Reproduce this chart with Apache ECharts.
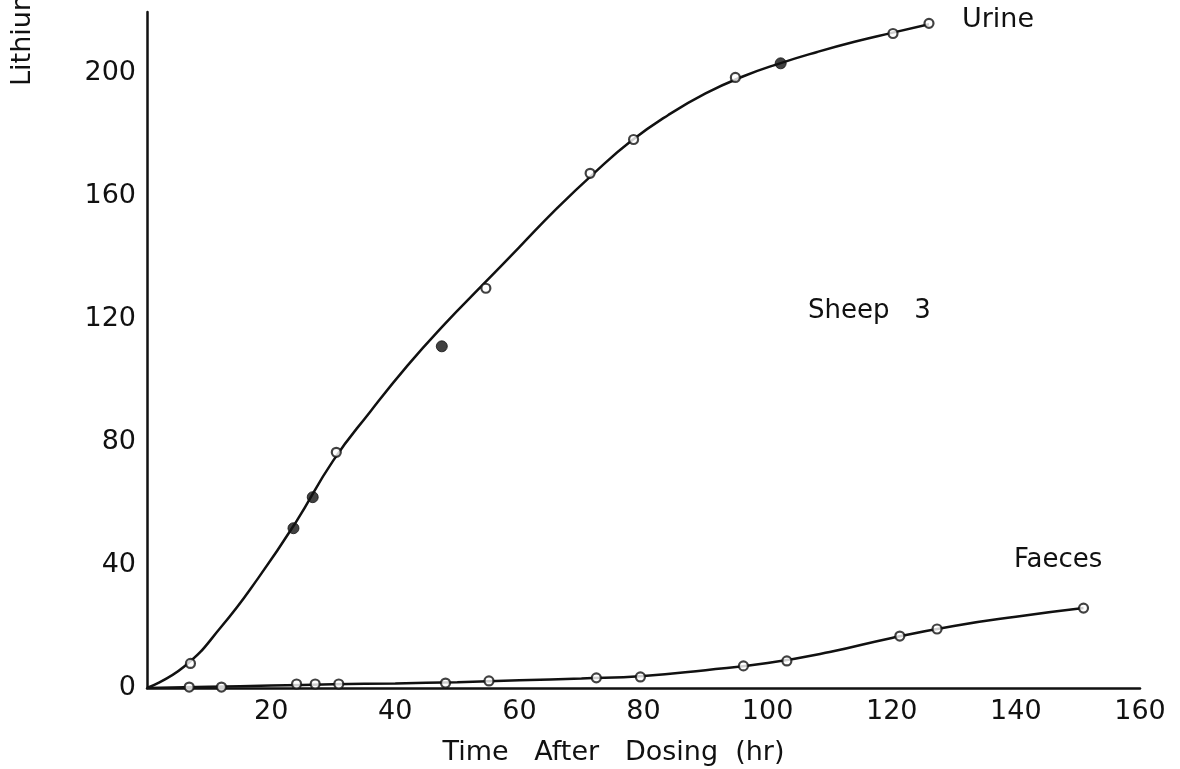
<!DOCTYPE html>
<html>
<head>
<meta charset="utf-8">
<script src="https://cdn.jsdelivr.net/npm/echarts@6/dist/echarts.min.js"></script>
<style>
html,body{margin:0;padding:0;background:#fff;}
#chart{width:1180px;height:769px;}
</style>
</head>
<body>
<div id="chart"></div>
<script>
// Urine: measured points (open circles and filled dots)
const urineOpen = [[7, 8], [30.5, 76.7], [54.6, 130.1], [71.4, 167.5], [78.4, 178.5], [94.8, 198.7], [120.2, 213], [126, 216.3]];
const urineFilled = [[23.6, 52], [26.7, 62.1], [47.5, 111.2], [102.1, 203.3]];
// Urine: hand-drawn fitted curve
const urineCurveX = [0, 6, 12, 18, 24, 30, 36, 42, 48, 54, 60, 66, 72, 78, 84, 90, 96, 102, 108, 114, 120, 126];
const urineCurveY = [0, 7, 20, 36, 54, 74, 90, 105, 118.5, 131, 143.5, 156, 167.5, 178, 186.5, 193.5, 199, 203.3, 207, 210.3, 213.2, 216];
// Faeces: measured points
const faecesPoints = [[6.8, 0.3], [12, 0.3], [24.1, 1.3], [27.1, 1.3], [30.9, 1.3], [48.1, 1.6], [55.1, 2.3], [72.4, 3.3], [79.5, 3.6], [96.1, 7.2], [103.1, 8.8], [121.3, 16.9], [127.3, 19.2], [150.9, 26]];
// Faeces: drawn curve
const faecesCurveX = [0, 10, 20, 30, 40, 50, 60, 70, 80, 90, 100, 110, 120, 130, 140, 150.9];
const faecesCurveY = [0, 0.4, 0.8, 1.2, 1.5, 1.9, 2.5, 3.1, 3.9, 5.8, 8.1, 11.7, 16.3, 20.2, 23.2, 26];

const xTicks = [0, 20, 40, 60, 80, 100, 120, 140, 160];
const yTicks = [0, 40, 80, 120, 160, 200];

const labels = {
  yName: 'Lithium',
  xName: 'Time   After   Dosing  (hr)',
  urine: 'Urine',
  faeces: 'Faeces',
  sheep: 'Sheep   3'
};

const FONT = '"DejaVu Sans", sans-serif';
const INK = '#111';

const zip = (xs, ys) => xs.map((x, i) => [x, ys[i]]);

const chart = echarts.init(document.getElementById('chart'), null, {renderer: 'canvas'});
chart.setOption({
  backgroundColor: '#ffffff',
  animation: false,
  grid: {left: 147, right: 40, top: 12, bottom: 81, containLabel: false, outerBoundsMode: 'none'},
  xAxis: {
    type: 'value',
    min: xTicks[0], max: xTicks[xTicks.length - 1], interval: 20,
    name: labels.xName,
    nameLocation: 'middle',
    nameGap: 51,
    nameTextStyle: {fontFamily: FONT, fontSize: 27, color: INK, padding: [0, 60, 0, 0]},
    axisLine: {show: true, onZero: false, lineStyle: {color: INK, width: 2.5}},
    axisTick: {show: false},
    splitLine: {show: false},
    axisLabel: {
      showMinLabel: false,
      margin: 10,
      fontFamily: FONT, fontSize: 27, color: INK
    }
  },
  yAxis: {
    type: 'value',
    min: 0, max: 220, interval: 40,
    axisLine: {show: true, onZero: false, lineStyle: {color: INK, width: 2.5}},
    axisTick: {show: false},
    splitLine: {show: false},
    axisLabel: {
      showMaxLabel: false,
      margin: 11,
      fontFamily: FONT, fontSize: 27, color: INK,
      formatter: function (v) { return yTicks.indexOf(v) >= 0 ? String(v) : ''; }
    }
  },
  series: [
    {
      name: 'Urine curve', type: 'line', data: zip(urineCurveX, urineCurveY), smooth: 0.5,
      showSymbol: false, lineStyle: {color: INK, width: 2.5}, z: 2, silent: true
    },
    {
      name: 'Faeces curve', type: 'line', data: zip(faecesCurveX, faecesCurveY), smooth: 0.5,
      showSymbol: false, lineStyle: {color: INK, width: 2.5}, z: 2, silent: true
    },
    {
      name: 'Urine', type: 'scatter', data: urineOpen, symbol: 'circle', symbolSize: 9,
      itemStyle: {color: '#fff', borderColor: INK, borderWidth: 2.2}, z: 3
    },
    {
      name: 'Urine (filled)', type: 'scatter', data: urineFilled, symbol: 'circle', symbolSize: 11,
      itemStyle: {color: INK, borderColor: INK, borderWidth: 1}, z: 3
    },
    {
      name: 'Faeces', type: 'scatter', data: faecesPoints, symbol: 'circle', symbolSize: 9,
      itemStyle: {color: '#fff', borderColor: INK, borderWidth: 2.2}, z: 3
    }
  ],
  graphic: [
    {type: 'text', x: 9, y: 86, rotation: Math.PI / 2,
      style: {text: labels.yName, fontFamily: FONT, fontSize: 27, fill: INK, textAlign: 'left', textVerticalAlign: 'top'}},
    {type: 'text', left: 962, top: 6, style: {text: labels.urine, fontFamily: FONT, fontSize: 27, fill: INK}},
    {type: 'text', left: 1014, top: 547, style: {text: labels.faeces, fontFamily: FONT, fontSize: 26, fill: INK}},
    {type: 'text', left: 808, top: 298, style: {text: labels.sheep, fontFamily: FONT, fontSize: 26, fill: INK}}
  ]
});
</script>
</body>
</html>
